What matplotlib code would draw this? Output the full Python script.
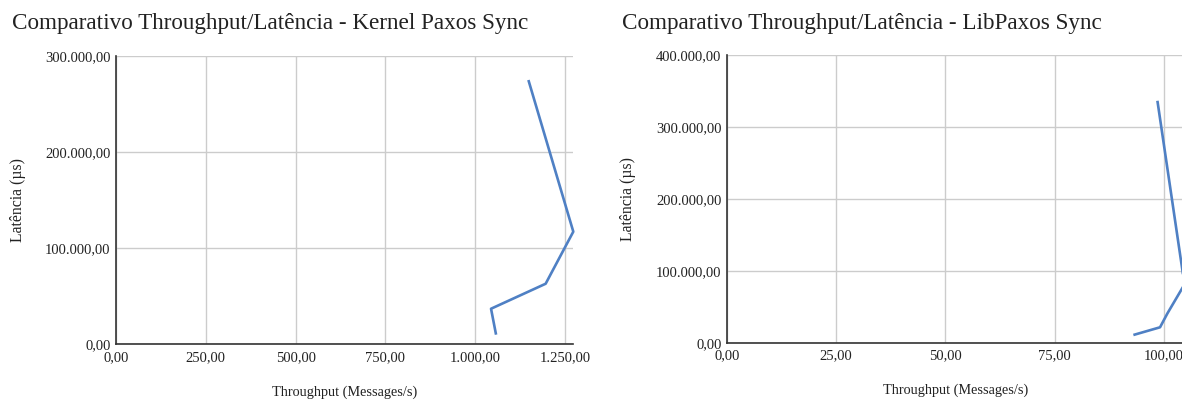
import matplotlib
matplotlib.use("Agg")
import matplotlib.pyplot as plt
from matplotlib.ticker import FuncFormatter, MultipleLocator

plt.rcParams['font.family'] = ['Liberation Serif', 'DejaVu Serif']

# Kernel Paxos (sync): throughput (messages/s) vs latency (µs)
kernel_throughput = [1058, 1044, 1196, 1273, 1148]
kernel_latency = [9700, 36700, 62700, 116900, 274700]

# LibPaxos (sync)
lib_throughput = [93.0, 99.1, 100.8, 104.7, 98.5]
lib_latency = [10700, 21400, 40800, 81000, 336000]

titles = ["Comparativo Throughput/Latência - Kernel Paxos Sync",
          "Comparativo Throughput/Latência - LibPaxos Sync"]
x_label = "Throughput (Messages/s)"
y_label = "Latência (µs)"

LINE = "#4f80c4"
GRID = "#cccccc"
AXIS = "#333333"
TEXT = "#222222"


def br_fmt(v, pos=None):
    """Brazilian number format: 1.234,56"""
    s = f"{v:,.2f}"
    return s.replace(",", "X").replace(".", ",").replace("X", ".")


W, H = 1182, 401
fig = plt.figure(figsize=(W / 100, H / 100), dpi=100)


def px_axes(x0, x1, ytop, ybot):
    return fig.add_axes([x0 / W, (H - ybot) / H, (x1 - x0) / W, (ybot - ytop) / H])


ax1 = px_axes(116, 573.3, 55.7, 344)
ax2 = px_axes(727, 1184.5, 54.7, 342.7)

# (axes, x, y, x step, y step, y max, title, title x, axis bottom px, x-label px, y-label px)
configs = [
    (ax1, kernel_throughput, kernel_latency, 250, 100000, 300000, titles[0], 12, 344, 392, 18),
    (ax2, lib_throughput, lib_latency, 25, 100000, 400000, titles[1], 622, 342.7, 390, 628),
]

for ax, xs, ys, xstep, ystep, ymax, title, tx, ybot, xlab_y, ylab_x in configs:
    ax.plot(xs, ys, color=LINE, lw=1.9, solid_joinstyle='round', solid_capstyle='butt',
            clip_on=False, zorder=3)
    ax.set_xlim(0, max(xs))
    ax.set_ylim(0, ymax)
    ax.xaxis.set_major_locator(MultipleLocator(xstep))
    ax.yaxis.set_major_locator(MultipleLocator(ystep))
    ax.xaxis.set_major_formatter(FuncFormatter(br_fmt))
    ax.yaxis.set_major_formatter(FuncFormatter(br_fmt))
    ax.grid(True, color=GRID, lw=1.0)
    ax.set_axisbelow(True)
    for side in ("top", "right"):
        ax.spines[side].set_visible(False)
    for side in ("left", "bottom"):
        ax.spines[side].set_color(AXIS)
        ax.spines[side].set_linewidth(1.2)
    ax.tick_params(length=0, labelsize=10.5, colors=TEXT, pad=4)
    ax.tick_params(axis='x', pad=5)
    ax.set_xlabel(x_label, fontsize=10.3, color=TEXT, va='center')
    ax.set_ylabel(y_label, fontsize=11.3, color=TEXT, va='center')
    pos = ax.get_position()
    ax.xaxis.set_label_coords(0.5, -(xlab_y - ybot) / (pos.height * H))
    ax.yaxis.set_label_coords(-(pos.x0 * W - ylab_x) / (pos.width * W), 0.5)
    fig.text(tx / W, 1 - 24 / H, title, fontsize=16.7, ha='left', va='center', color=TEXT)

fig.savefig("out.png", dpi=100, facecolor="white")
